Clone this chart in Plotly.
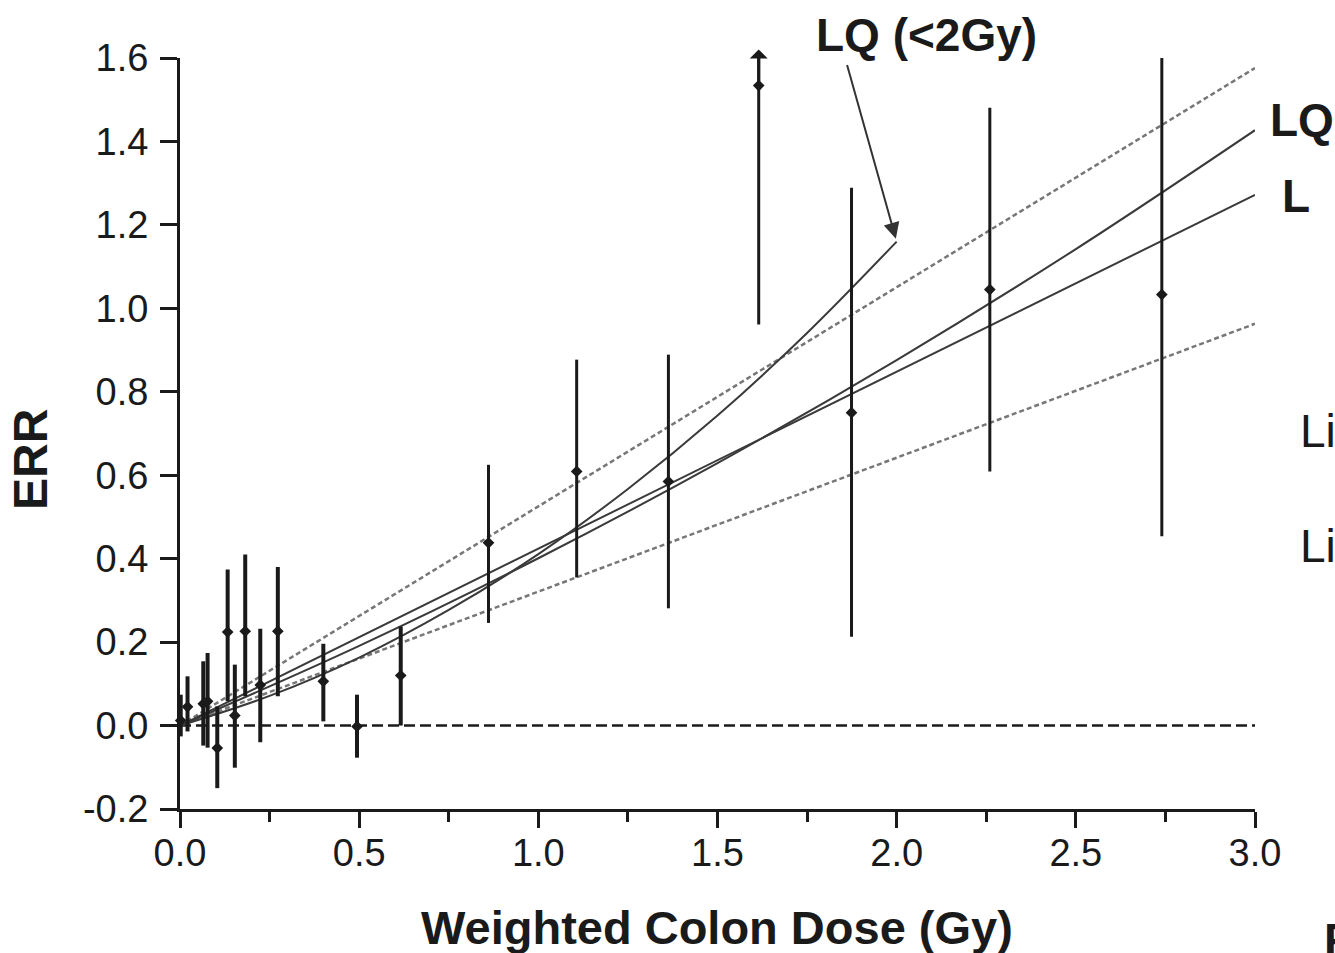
import plotly.graph_objects as go

# ---- data ----
dose = [0.002, 0.021, 0.065, 0.077, 0.104, 0.133, 0.153, 0.182, 0.224, 0.273,
        0.400, 0.494, 0.616, 0.861, 1.107, 1.363, 1.615, 1.874, 2.260, 2.740]
err = [0.012, 0.045, 0.052, 0.058, -0.054, 0.224, 0.024, 0.226, 0.097, 0.226,
       0.106, -0.002, 0.120, 0.438, 0.609, 0.585, 1.534, 0.750, 1.045, 1.033]
err_lo = [-0.026, -0.014, -0.048, -0.053, -0.150, 0.058, -0.101, 0.070, -0.040, 0.070,
          0.010, -0.077, 0.000, 0.246, 0.355, 0.281, 0.961, 0.213, 0.609, 0.454]
err_hi = [0.074, 0.118, 0.154, 0.174, 0.046, 0.374, 0.146, 0.410, 0.232, 0.380,
          0.196, 0.074, 0.237, 0.625, 0.877, 0.889, 1.624, 1.289, 1.481, 1.600]
truncated = [False] * 16 + [True] + [False] * 3   # upper limit off-scale (arrow)

# fitted curves (values read at the plotted doses)
lin_dose = [0.0, 3.0]
lin_L = [0.0, 1.272]
ci_upper = [0.0, 1.576]
ci_lower = [0.0, 0.963]
lq_dose = [0.0, 0.5, 1.0, 1.5, 2.0, 2.5, 3.0]
lq_err = [0.0, 0.191, 0.401, 0.629, 0.876, 1.142, 1.427]
lq2_dose = [0.0, 0.25, 0.5, 0.75, 1.0, 1.25, 1.5, 1.75, 2.0]
lq2_err = [0.0, 0.071, 0.163, 0.277, 0.411, 0.567, 0.743, 0.941, 1.160]
zero_dose = [0.0, 3.0]
zero_err = [0.0, 0.0]

y_tickvals = [-0.2, 0.0, 0.2, 0.4, 0.6, 0.8, 1.0, 1.2, 1.4, 1.6]
y_ticktext = ["-0.2", "0.0", "0.2", "0.4", "0.6", "0.8", "1.0", "1.2", "1.4", "1.6"]
x_tickvals = [0.0, 0.5, 1.0, 1.5, 2.0, 2.5, 3.0]
x_ticktext = ["0.0", "0.5", "1.0", "1.5", "2.0", "2.5", "3.0"]

INK = "#1a1a1a"
FONT = "Liberation Sans, Arial, sans-serif"

fig = go.Figure()

# reference zero line
fig.add_trace(go.Scatter(x=zero_dose, y=zero_err, mode="lines",
                         line=dict(color=INK, width=2.5, dash="11px,5px"),
                         hoverinfo="skip", showlegend=False))
# confidence bounds of linear fit
for ys in (ci_upper, ci_lower):
    fig.add_trace(go.Scatter(x=lin_dose, y=ys, mode="lines",
                             line=dict(color="#777777", width=2.5, dash="5px,3px"),
                             showlegend=False))
# L, LQ, LQ(<2Gy)
fig.add_trace(go.Scatter(x=lin_dose, y=lin_L, mode="lines",
                         line=dict(color="#3a3a3a", width=2), showlegend=False))
fig.add_trace(go.Scatter(x=lq_dose, y=lq_err, mode="lines", line_shape="spline",
                         line=dict(color="#3a3a3a", width=2), showlegend=False))
fig.add_trace(go.Scatter(x=lq2_dose, y=lq2_err, mode="lines", line_shape="spline",
                         line=dict(color="#3a3a3a", width=2), showlegend=False))

# data points with error bars (thicker bars at low dose)
for sel, thick in ((lambda d: d < 0.7, 4), (lambda d: d >= 0.7, 3)):
    idx = [i for i, d in enumerate(dose) if sel(d)]
    fig.add_trace(go.Scatter(
        x=[dose[i] for i in idx], y=[err[i] for i in idx], mode="markers",
        marker=dict(symbol="diamond", size=9, color=INK),
        error_y=dict(type="data", symmetric=False,
                     array=[err_hi[i] - err[i] for i in idx],
                     arrayminus=[err[i] - err_lo[i] for i in idx],
                     color=INK, thickness=thick, width=0),
        cliponaxis=False, showlegend=False))


def pxx(p):   # pixel x -> paper
    return (p - 180) / 1075


def pxy(p):   # pixel y -> paper
    return (809 - p) / 751


ann = [
    dict(text="<b>LQ (&lt;2Gy)</b>", x=pxx(926), y=pxy(35), xanchor="center", yanchor="middle",
         font=dict(size=46)),
    dict(text="<b>LQ</b>", x=pxx(1268), y=pxy(120), xanchor="left", yanchor="middle",
         font=dict(size=46)),
    dict(text="<b>L</b>", x=pxx(1280), y=pxy(196), xanchor="left", yanchor="middle",
         font=dict(size=46)),
    dict(text="Li", x=pxx(1298), y=pxy(431), xanchor="left", yanchor="middle",
         font=dict(size=46)),
    dict(text="Li", x=pxx(1298), y=pxy(546), xanchor="left", yanchor="middle",
         font=dict(size=46)),
    dict(text="<b>ERR</b>", x=pxx(30), y=pxy(460), xanchor="center", yanchor="middle",
         textangle=-90, font=dict(size=48)),
    dict(text="<b>Weighted Colon Dose (Gy)</b>", x=pxx(717), y=pxy(928),
         xanchor="center", yanchor="middle", font=dict(size=47)),
    dict(text="<b>F</b>", x=pxx(1322), y=pxy(912), xanchor="left", yanchor="top",
         font=dict(size=46)),
]
for a in ann:
    a.update(xref="paper", yref="paper", showarrow=False)
    a["font"].update(family=FONT, color=INK)

# arrowheads for off-scale upper limits (head drawn at the upper limit)
for i, t in enumerate(truncated):
    if t:
        ann.append(dict(x=dose[i], y=err[i], xref="x", yref="y", text="",
                        axref="x", ax=dose[i], ayref="y", ay=err_hi[i],
                        showarrow=True, arrowside="start", arrowhead=2, arrowsize=1.1,
                        arrowwidth=3, arrowcolor=INK, standoff=0, startstandoff=0))

# arrow pointing to the end of the LQ(<2Gy) curve
ann.append(dict(x=lq2_dose[-1], y=lq2_err[-1], xref="x", yref="y", text="",
                showarrow=True, ax=-50, ay=-178, arrowhead=2, arrowsize=1.6,
                arrowwidth=2, arrowcolor="#333333", standoff=3))

fig.update_layout(
    width=1335, height=953,
    margin=dict(l=180, r=80, t=58, b=144),
    paper_bgcolor="white", plot_bgcolor="white",
    font=dict(family=FONT, color=INK, size=38),
    annotations=ann,
    xaxis=dict(range=[0, 3], tickvals=x_tickvals, ticktext=x_ticktext,
               showline=True, linewidth=3, linecolor=INK, showgrid=False, zeroline=False,
               ticks="outside", ticklen=16, tickwidth=3, tickcolor=INK,
               tickfont=dict(size=38), ticklabelstandoff=-8,
               minor=dict(dtick=0.25, tick0=0, ticks="outside", ticklen=10,
                          tickwidth=3, tickcolor=INK)),
    yaxis=dict(range=[-0.2, 1.6], tickvals=y_tickvals, ticktext=y_ticktext,
               showline=True, linewidth=3, linecolor=INK, showgrid=False, zeroline=False,
               ticks="outside", ticklen=17, tickwidth=3, tickcolor=INK,
               tickfont=dict(size=38), ticklabelstandoff=4),
)

fig.write_html("out.html", config={"displayModeBar": False},
               post_script="document.body.style.margin='0';")
